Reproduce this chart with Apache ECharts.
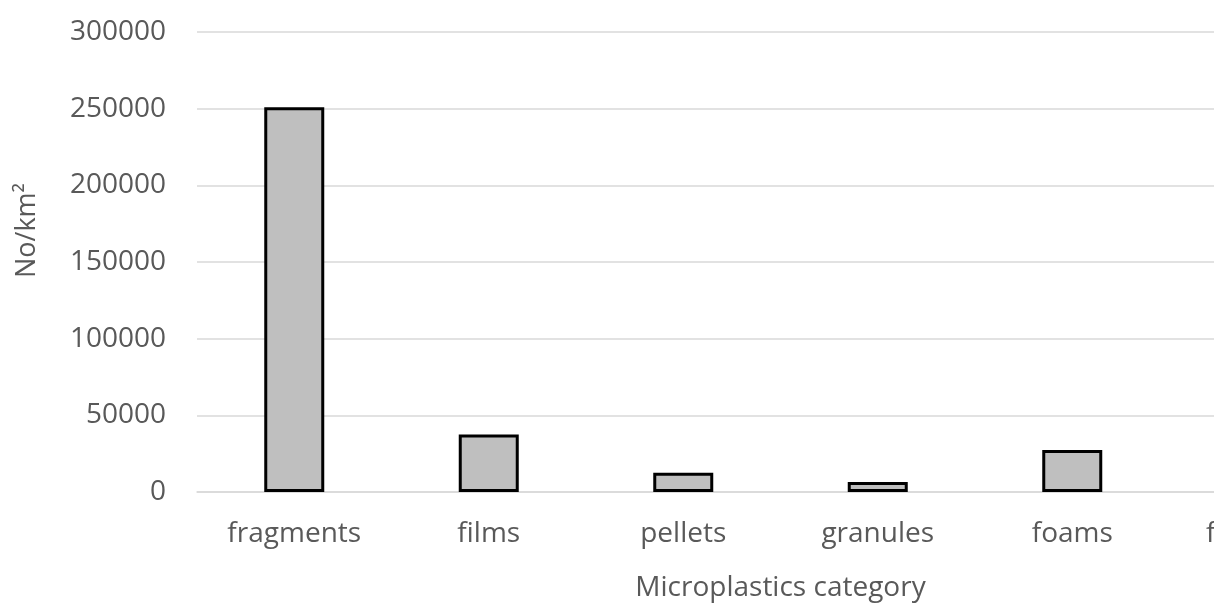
<!DOCTYPE html>
<html>
<head>
<meta charset="utf-8">
<title>Microplastics category</title>
<script src="https://cdn.jsdelivr.net/npm/echarts@6/dist/echarts.min.js"></script>
<style>
  html, body { margin: 0; padding: 0; background: #ffffff; }
  #frame { width: 1214px; height: 614px; overflow: hidden; position: relative; }
  #chart { width: 1400px; height: 614px; }
</style>
</head>
<body>
<div id="frame"><div id="chart"></div></div>
<script>
// Microplastic abundance by category (No/km²)
const categories = ['fragments', 'films', 'pellets', 'granules', 'foams', 'filaments'];
const abundance = [251000, 37500, 12600, 6500, 27400, null];
const yTicks = [0, 50000, 100000, 150000, 200000, 250000, 300000];

const textColor = '#595959';
const fontFamily = '"Open Sans", "Liberation Sans", sans-serif';

const chart = echarts.init(document.getElementById('chart'), null, { renderer: 'canvas' });

chart.setOption({
  animation: false,
  backgroundColor: '#ffffff',
  grid: { left: 197, top: 32, width: 1167, height: 460, containLabel: false },
  xAxis: {
    type: 'category',
    data: categories,
    axisTick: { show: false },
    axisLine: { show: true, lineStyle: { color: '#d9d9d9', width: 1.5 } },
    axisLabel: { color: textColor, fontFamily: fontFamily, fontSize: 28, margin: 28 },
    name: 'Microplastics category',
    nameLocation: 'middle',
    nameGap: 82,
    nameTextStyle: { color: textColor, fontFamily: fontFamily, fontSize: 28 }
  },
  yAxis: {
    type: 'value',
    min: yTicks[0],
    max: yTicks[yTicks.length - 1],
    interval: yTicks[1] - yTicks[0],
    axisLine: { show: false },
    axisTick: { show: false },
    splitLine: { lineStyle: { color: '#d9d9d9', width: 1.5 } },
    axisLabel: {
      color: textColor, fontFamily: fontFamily, fontSize: 28, margin: 31,
      formatter: function (v) { return String(v); }
    }
  },
  graphic: [{
    type: 'text',
    left: 14,
    top: 183,
    rotation: Math.PI / 2,
    style: {
      text: 'No/km²',
      fill: textColor,
      font: '27px ' + fontFamily
    }
  }],
  series: [{
    type: 'bar',
    data: abundance,
    barWidth: 60,
    itemStyle: { color: '#bfbfbf', borderColor: '#000000', borderWidth: 3 }
  }]
});
</script>
</body>
</html>
